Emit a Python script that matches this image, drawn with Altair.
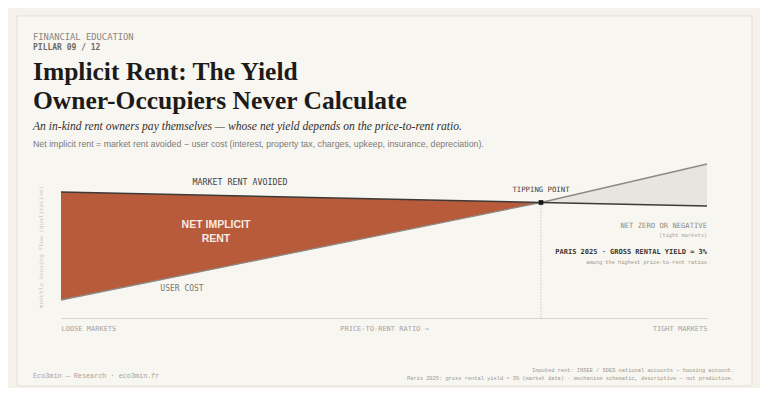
import altair as alt
import pandas as pd

# ---------------------------------------------------------------------
# Data: schematic curves along the price-to-rent axis (0 = loose, 1 = tight)
# ---------------------------------------------------------------------
PRICE_TO_RENT = [0.0, 0.743, 1.0]
MARKET_RENT = [126, 115.5, 112]
USER_COST = [18, 115.5, 154]
ZONES = ['net', 'negative']
AXIS_TICKS = [0, 0.5, 1]
AXIS_LABELS = ['LOOSE MARKETS', 'PRICE-TO-RENT RATIO →', 'TIGHT MARKETS']

COLORS = {
    'page': '#f5f2ec',
    'card': '#f8f6f1',
    'border': '#e3dfd6',
    'rust': '#b85b3b',
    'grey_fill': '#e7e5e0',
    'ink': '#1c1b19',
    'dark': '#3d3a36',
    'mid': '#8d8a85',
    'light': '#a7a39c',
    'faint': '#c9c5bc',
}

SERIF = 'Liberation Serif'
SANS = 'Liberation Sans'
MONO = 'DejaVu Sans Mono'
MONO2 = 'Liberation Mono'

curves = pd.DataFrame({'ratio': PRICE_TO_RENT, 'market': MARKET_RENT, 'user': USER_COST})
zones = pd.concat([
    curves.iloc[:2].assign(zone=ZONES[0]),
    curves.iloc[1:].assign(zone=ZONES[1]),
])
tip = curves.iloc[[1]].assign(base=0)
one = pd.DataFrame({'k': [0]})

xs = alt.Scale(domain=[0, 1], nice=False, zero=False)
ys = alt.Scale(domain=[0, 160], nice=False, zero=False)

label_expr = ' : '.join(
    f"datum.value == {v} ? '{t}'" for v, t in zip(AXIS_TICKS[:-1], AXIS_LABELS[:-1])
) + f" : '{AXIS_LABELS[-1]}'"

# same axis on every layer so the merge keeps it; zindex puts it above the card
x_axis = alt.Axis(values=AXIS_TICKS, labelExpr=label_expr, ticks=False, grid=False,
                  labelFlush=True, labelOverlap=False, labelPadding=6, labelFont=MONO,
                  labelFontSize=7, labelColor=COLORS['light'], domainColor='#d8d4cb',
                  domainWidth=1, title=None, zindex=1)


def xenc():
    return alt.X('ratio:Q', scale=xs, axis=x_axis)


# card behind everything
card = alt.Chart(one).mark_rect(
    fill=COLORS['card'], stroke=COLORS['border'], strokeWidth=1
).encode(x=alt.value(-44), x2=alt.value(691), y=alt.value(-142), y2=alt.value(228))

areas = alt.Chart(zones).mark_area(opacity=1).encode(
    x=xenc(),
    y=alt.Y('market:Q', scale=ys, axis=None),
    y2='user:Q',
    color=alt.Color('zone:N', scale=alt.Scale(domain=ZONES, range=[COLORS['rust'], COLORS['grey_fill']]),
                    legend=None),
)

user_line = alt.Chart(curves).mark_line(color=COLORS['mid'], strokeWidth=1.3).encode(
    x=xenc(),
    y=alt.Y('user:Q', scale=ys, axis=None),
)

market_line = alt.Chart(curves).mark_line(color=COLORS['dark'], strokeWidth=1.6).encode(
    x=xenc(),
    y=alt.Y('market:Q', scale=ys, axis=None),
)

tip_rule = alt.Chart(tip).mark_rule(color='#b3afa8', strokeDash=[1, 2], strokeWidth=1).encode(
    x=xenc(),
    y=alt.Y('market:Q', scale=ys, axis=None),
    y2='base:Q',
)

tip_point = alt.Chart(tip).mark_square(color='#141414', size=22, opacity=1).encode(
    x=xenc(),
    y=alt.Y('market:Q', scale=ys, axis=None),
)


def note(text, x, y, **style):
    """Text placed in plot-relative pixels."""
    style.setdefault('baseline', 'middle')
    return alt.Chart(one).mark_text(text=text, **style).encode(x=alt.value(x), y=alt.value(y))


texts = [
    # header
    note('FINANCIAL EDUCATION', -28, -121, align='left', font=MONO, fontSize=8.8, color='#8a8680'),
    note('PILLAR 09 / 12', -28, -110, align='left', font=MONO, fontSize=8, fontWeight='bold', color='#6e6a64'),
    note('Implicit Rent: The Yield', -28, -78, align='left', baseline='alphabetic', font=SERIF,
         fontSize=25.5, fontWeight='bold', color=COLORS['ink']),
    note('Owner-Occupiers Never Calculate', -28, -49, align='left', baseline='alphabetic', font=SERIF,
         fontSize=25.5, fontWeight='bold', color=COLORS['ink']),
    note('An in-kind rent owners pay themselves — whose net yield depends on the price-to-rent ratio.',
         -28, -28, align='left', baseline='alphabetic', font=SERIF, fontSize=11.6, fontStyle='italic',
         color='#34312d'),
    note('Net implicit rent = market rent avoided − user cost (interest, property tax, charges, upkeep, '
         'insurance, depreciation).', -28, -14, align='left', font=SANS, fontSize=8.8, color='#7d7973'),
    # y title
    note('monthly housing flow (qualitative)', -20, 89, align='center', angle=270, font=MONO2,
         fontSize=6, color=COLORS['faint']),
    # annotations
    note('MARKET RENT AVOIDED', 179, 25, align='center', font=MONO, fontSize=8.3, color='#45423d'),
    note('NET IMPLICIT', 155, 67, align='center', font=SANS, fontSize=10.5, fontWeight='bold', color='#f6ece4'),
    note('RENT', 155, 81, align='center', font=SANS, fontSize=10.5, fontWeight='bold', color='#f6ece4'),
    note('USER COST', 121, 131, align='center', font=MONO, fontSize=8, color='#7a766f'),
    note('TIPPING POINT', 480, 32, align='center', font=MONO, fontSize=7.3, color='#45423d'),
    note('NET ZERO OR NEGATIVE', 646, 68, align='right', font=MONO, fontSize=7.2, color='#8f8b84'),
    note('(tight markets)', 646, 77, align='right', font=MONO2, fontSize=5.3, color=COLORS['light']),
    note('PARIS 2025 · GROSS RENTAL YIELD ≈ 3%', 646, 94, align='right', font=MONO, fontSize=7,
         fontWeight='bold', color='#3a3733'),
    note('among the highest price-to-rent ratios', 646, 104, align='right', font=MONO2, fontSize=5.3,
         color='#98948d'),
    # footer
    note('Eco3min — Research · eco3min.fr', -28, 218, align='left', font=MONO2, fontSize=6.8,
         color=COLORS['light']),
    note('Imputed rent: INSEE / SDES national accounts — housing account.', 673, 212, align='right',
         font=MONO2, fontSize=5.35, color='#9a968f'),
    note('Paris 2025: gross rental yield ≈ 3% (market data) · mechanism schematic, descriptive — '
         'not predictive.', 673, 219.5, align='right', font=MONO2, fontSize=5.35, color='#9a968f'),
]

chart = alt.layer(
    card, areas, user_line, market_line, tip_rule, tip_point, *texts
).properties(
    width=646,
    height=160,
    autosize=alt.AutoSizeParams(type='none'),
    padding={'left': 53, 'top': 150, 'right': 53, 'bottom': 70},
    background=COLORS['page'],
).configure_view(stroke=None)

chart.save("out.html", embed_options={"renderer": "svg", "actions": False})
